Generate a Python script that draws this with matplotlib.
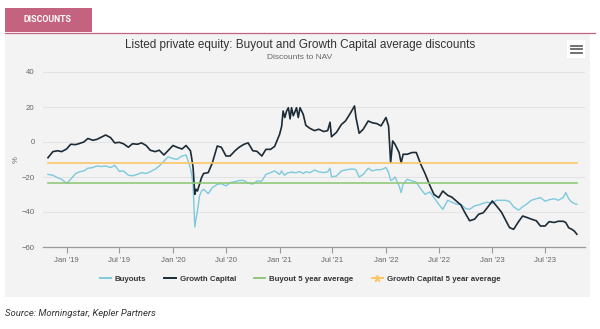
import matplotlib
matplotlib.use("Agg")
import matplotlib.pyplot as plt
import matplotlib.dates as mdates
import numpy as np
from matplotlib.lines import Line2D
from matplotlib.patches import Rectangle

# average discounts to NAV, %
dates = [
    "2018-10-29", "2018-11-15", "2018-12-01", "2018-12-15",
    "2019-01-01", "2019-01-15", "2019-02-01", "2019-02-15", "2019-03-01", "2019-03-15",
    "2019-04-01", "2019-04-15", "2019-05-01", "2019-05-15", "2019-06-01", "2019-06-15",
    "2019-07-01", "2019-07-15", "2019-08-01", "2019-08-15", "2019-09-01", "2019-09-15",
    "2019-10-01", "2019-10-15", "2019-11-01", "2019-11-15", "2019-12-01", "2019-12-15",
    "2020-01-01", "2020-01-15", "2020-02-01", "2020-02-15", "2020-03-01", "2020-03-05",
    "2020-03-10", "2020-03-16", "2020-03-20", "2020-03-25", "2020-04-01", "2020-04-08",
    "2020-04-15", "2020-05-01", "2020-05-15", "2020-06-01", "2020-06-15", "2020-07-01",
    "2020-07-15", "2020-08-01", "2020-08-15", "2020-09-01", "2020-09-15", "2020-10-01",
    "2020-10-15", "2020-11-01", "2020-11-15", "2020-12-01", "2020-12-15",
    "2021-01-01", "2021-01-08", "2021-01-13", "2021-01-19", "2021-01-25", "2021-01-31",
    "2021-02-06", "2021-02-11", "2021-02-17", "2021-02-22", "2021-02-28", "2021-03-06",
    "2021-03-12", "2021-03-23", "2021-04-01", "2021-04-15", "2021-05-01", "2021-05-15",
    "2021-06-01", "2021-06-15", "2021-06-23", "2021-06-28", "2021-07-15", "2021-08-01",
    "2021-08-15", "2021-09-01", "2021-09-15", "2021-09-20", "2021-10-01", "2021-10-15",
    "2021-11-01", "2021-11-15", "2021-12-01", "2021-12-15",
    "2022-01-01", "2022-01-10", "2022-01-17", "2022-01-24", "2022-02-01", "2022-02-15",
    "2022-02-22", "2022-03-01", "2022-03-15", "2022-04-01", "2022-04-15", "2022-05-01",
    "2022-05-15", "2022-06-01", "2022-06-15", "2022-07-01", "2022-07-15", "2022-08-01",
    "2022-08-15", "2022-09-01", "2022-09-15", "2022-10-01", "2022-10-15", "2022-11-01",
    "2022-11-15", "2022-12-01", "2022-12-15",
    "2023-01-01", "2023-01-15", "2023-02-01", "2023-02-15", "2023-03-01", "2023-03-15",
    "2023-04-01", "2023-04-15", "2023-05-01", "2023-05-15", "2023-06-01", "2023-06-15",
    "2023-07-01", "2023-07-15", "2023-08-01", "2023-08-15", "2023-09-01", "2023-09-10",
    "2023-09-20", "2023-10-01", "2023-10-10", "2023-10-18",
]

buyouts = [
    -18.5, -19.0, -20.4, -21.3,
    -23.6, -21.3, -18.0, -17.0, -16.5, -15.0, -14.6, -13.7, -14.0, -13.7, -14.6, -13.3,
    -16.8, -16.5, -19.0, -19.3, -18.5, -17.5, -18.0, -17.0, -15.5, -13.7, -11.0, -8.5,
    -9.5, -9.9, -8.0, -7.4, -15.0, -18.5, -24.2, -48.5, -44.0, -39.4, -31.0, -28.0,
    -27.0, -29.5, -26.1, -24.2, -23.8, -25.1, -23.2, -22.7, -22.0, -22.0, -23.5, -24.0,
    -22.3, -22.3, -18.5, -17.5, -16.5,
    -18.5, -16.5, -18.0, -19.0, -18.0, -17.5, -17.5, -17.0, -17.5, -17.5, -17.5, -17.0,
    -17.0, -18.0, -17.0, -17.5, -16.0, -17.0, -17.5, -17.0, -15.0, -19.8, -19.5, -16.5,
    -16.0, -15.5, -15.5, -16.0, -20.0, -18.5, -15.0, -16.5, -15.8, -15.8,
    -14.6, -17.5, -22.0, -21.5, -20.0, -25.1, -28.9, -24.0, -21.3, -22.3, -23.0, -27.0,
    -29.9, -28.5, -31.8, -35.6, -38.5, -33.3, -34.4, -35.6, -35.5, -38.0, -38.5, -36.5,
    -36.0, -35.0, -34.4,
    -35.2, -33.3, -33.3, -33.3, -34.0, -37.0, -39.0, -37.0, -35.2, -33.3, -32.4, -31.8,
    -33.8, -33.0, -32.4, -33.3, -31.8, -28.9, -32.4, -34.4, -35.2, -35.6,
]

growth_capital = [
    -9.0, -5.5, -5.0, -5.5,
    -4.0, -1.3, -1.5, -0.8, 0.0, 2.0, 1.0, 1.5, 2.8, 4.0, 2.5, -0.5,
    -0.2, -1.0, -3.0, -1.0, -1.3, -0.5, -2.0, -4.7, -5.5, -4.7, -7.4, -5.0,
    -2.0, -3.0, -4.0, -2.0, -5.0, -8.9, -14.6, -29.9, -27.0, -28.0, -24.2, -20.4,
    -18.0, -17.5, -12.0, -2.3, -3.0, -8.0, -8.0, -5.0, -3.0, -1.3, -0.5, -5.0,
    -5.3, -8.0, -4.2, -4.2, -2.5,
    4.4, 9.0, 17.7, 14.0, 17.7, 19.6, 13.2, 19.6, 15.0, 17.0, 19.6, 14.0,
    19.6, 15.8, 9.5, 7.8, 6.5, 7.3, 6.0, 6.5, 11.3, 3.0, 5.5, 10.0,
    12.0, 16.5, 20.6, 14.0, 5.0, 7.3, 12.0, 11.0, 10.5, 9.2,
    14.0, 9.0, -11.8, 0.6, -1.3, -6.0, -12.0, -7.0, -7.0, -6.0, -6.0, -13.0,
    -18.0, -25.0, -30.0, -31.8, -28.0, -30.5, -31.5, -34.0, -36.0, -41.0, -45.0, -44.1,
    -41.3, -40.4, -37.5,
    -33.7, -36.5, -40.0, -44.5, -48.9, -49.9, -45.5, -42.3, -43.2, -44.1, -45.0, -48.0,
    -48.0, -45.5, -46.0, -45.3, -45.3, -46.0, -49.0, -49.9, -51.0, -52.7,
]

buyout_5y_avg = -23.5
growth_5y_avg = -12.0

tick_dates = ["2019-01-01", "2019-07-01", "2020-01-01", "2020-07-01", "2021-01-01",
              "2021-07-01", "2022-01-01", "2022-07-01", "2023-01-01", "2023-07-01"]

W, H = 600, 329
PANEL = "#f3f3f3"
PINK = "#c4637f"
BLUE = "#7dc9de"
DARK = "#1c2b36"
GREEN = "#91c87a"
ORANGE = "#f9c76a"

plt.rcParams["font.family"] = ["Liberation Sans", "DejaVu Sans"]

fig = plt.figure(figsize=(W / 100, H / 100), dpi=100)
fig.patch.set_facecolor("white")


def fx(px):
    return px / W


def fy(py):
    return 1 - py / H


# panel, tab and header line
fig.patches.append(Rectangle((fx(5), fy(297)), fx(585), 264 / H, transform=fig.transFigure,
                             facecolor=PANEL, edgecolor="none", zorder=-5))
fig.patches.append(Rectangle((fx(5), fy(32)), fx(87), 24 / H, transform=fig.transFigure,
                             facecolor=PINK, edgecolor="none", zorder=-4))
fig.lines.append(Line2D([fx(5), fx(595)], [fy(32.5), fy(32.5)], transform=fig.transFigure,
                        color=PINK, lw=0.9, zorder=-3))
fig.text(fx(48), fy(20), "DISCOUNTS", color="white", fontsize=6.3, fontweight="bold",
         ha="center", va="center", family=["Roboto", "DejaVu Sans"])

fig.text(0.5, fy(45), "Listed private equity: Buyout and Growth Capital average discounts",
         ha="center", va="center", fontsize=8.5, color="#333333")
fig.text(0.5, fy(57.5), "Discounts to NAV", ha="center", va="center", fontsize=6.0,
         color="#666666")

# export menu icon
fig.patches.append(Rectangle((fx(567), fy(58)), fx(18), 18 / H, transform=fig.transFigure,
                             facecolor="white", edgecolor="none", zorder=-2))
for py in (45.5, 49, 52.5):
    fig.lines.append(Line2D([fx(571), fx(581.5)], [fy(py), fy(py)], transform=fig.transFigure,
                            color="#666666", lw=1.3, zorder=-1))

ax = fig.add_axes([fx(43), fy(247), fx(542), 175 / H])
ax.set_zorder(1)
ax.set_facecolor(PANEL)

x = mdates.datestr2num(dates)
ax.plot(x, buyouts, color=BLUE, lw=1.0, zorder=3)
ax.plot(x, growth_capital, color=DARK, lw=1.2, zorder=4)
ax.plot([x[0], x[-1]], [buyout_5y_avg, buyout_5y_avg], color=GREEN, lw=1.2, zorder=5)
ax.plot([x[0], x[-1]], [growth_5y_avg, growth_5y_avg], color=ORANGE, lw=1.2, zorder=6)

ax.set_xlim(mdates.datestr2num("2018-10-12"), mdates.datestr2num("2023-11-15"))
ax.set_ylim(-60, 40)
ax.set_yticks(np.arange(-60, 41, 20))
ax.set_xticks(mdates.datestr2num(tick_dates))
ax.xaxis.set_major_formatter(mdates.DateFormatter("%b '%y"))

ax.grid(axis="y", color="#e3e3e3", lw=0.8)
ax.set_axisbelow(True)
for side in ("top", "right", "left"):
    ax.spines[side].set_visible(False)
ax.spines["bottom"].set_color("#9a9a9a")
ax.spines["bottom"].set_linewidth(0.9)
ax.tick_params(axis="y", length=0, labelsize=5.6, labelcolor="#666666", pad=6)
ax.tick_params(axis="x", length=4, width=0.8, color="#9a9a9a", labelsize=5.6,
               labelcolor="#666666", pad=3)
fig.text(fx(16), fy(160), "%", rotation=90, ha="center", va="center", fontsize=5.6,
         color="#666666")

handles = [
    Line2D([], [], color=BLUE, lw=1.4),
    Line2D([], [], color=DARK, lw=1.4),
    Line2D([], [], color=GREEN, lw=1.4),
    Line2D([], [], color=ORANGE, lw=1.4, marker="*", markersize=5),
]
labels = ["Buyouts", "Growth Capital", "Buyout 5 year average", "Growth Capital 5 year average"]
fig.legend(handles, labels, loc="center", bbox_to_anchor=(fx(300), fy(279)), ncol=4,
           frameon=False, handlelength=1.4, handletextpad=0.5, columnspacing=2.3,
           prop={"size": 5.7, "weight": "bold"}, labelcolor="#333333")

fig.text(fx(5), fy(313), "Source: Morningstar, Kepler Partners", ha="left", va="center",
         fontsize=6.8, style="italic", color="#333333", family=["Roboto", "DejaVu Sans"])

fig.savefig("out.png", dpi=100, facecolor="white")
